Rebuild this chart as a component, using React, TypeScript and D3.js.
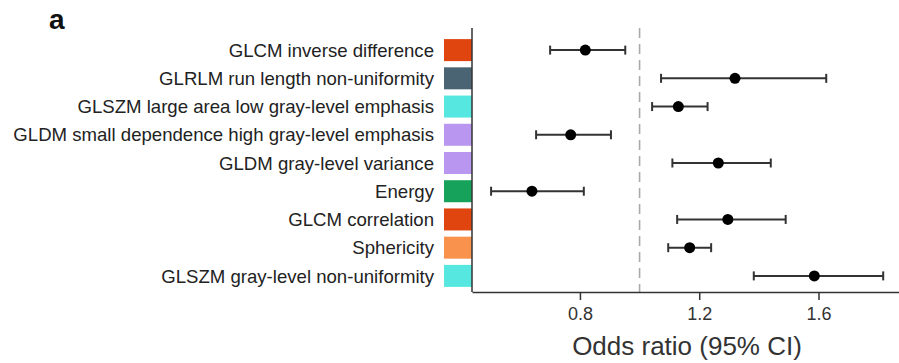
import React, { useEffect, useRef } from 'react';
import * as d3 from 'd3';

// features, top to bottom
const features = [
  'GLCM inverse difference',
  'GLRLM run length non-uniformity',
  'GLSZM large area low gray-level emphasis',
  'GLDM small dependence high gray-level emphasis',
  'GLDM gray-level variance',
  'Energy',
  'GLCM correlation',
  'Sphericity',
  'GLSZM gray-level non-uniformity',
];
const oddsRatio = [0.818, 1.32, 1.13, 0.769, 1.264, 0.639, 1.296, 1.168, 1.586];
const ciLow = [0.70, 1.072, 1.042, 0.653, 1.11, 0.502, 1.126, 1.096, 1.383];
const ciHigh = [0.952, 1.626, 1.228, 0.904, 1.44, 0.813, 1.49, 1.24, 1.817];
const groupColors = ['#e0450f', '#4b6474', '#56e8e0', '#b996ef', '#b996ef', '#17a25c', '#e0450f', '#f8924c', '#56e8e0'];
const xTicks = [0.8, 1.2, 1.6];

const W = 899;
const H = 363;

export default function App() {
  const ref = useRef<SVGSVGElement | null>(null);

  useEffect(() => {
    if (!ref.current) return;
    const svg = d3.select(ref.current);
    svg.selectAll('*').remove();
    const font = "'Liberation Sans', Arial, Helvetica, sans-serif";

    const axisLeftX = 472;
    const axisBottomY = 292;
    const x = d3.scaleLinear().domain([0.438, 1.87]).range([axisLeftX, W]);
    const y = d3.scaleBand<string>()
      .domain(features)
      .range([36, 290])
      .paddingInner(0.22)
      .paddingOuter(0.11);
    const rowMid = (f: string) => (y(f) ?? 0) + y.bandwidth() / 2;

    // panel letter
    svg.append('text')
      .attr('x', 49)
      .attr('y', 29)
      .attr('font-family', font)
      .attr('font-weight', 'bold')
      .attr('font-size', 28)
      .attr('fill', '#111')
      .text('a');

    // row labels
    svg.append('g').selectAll('text')
      .data(features)
      .enter()
      .append('text')
      .attr('x', 434)
      .attr('y', d => rowMid(d))
      .attr('dy', '0.36em')
      .attr('text-anchor', 'end')
      .attr('font-family', font)
      .attr('font-size', 18.6)
      .attr('fill', '#222')
      .text(d => d);

    // colour boxes
    svg.append('g').selectAll('rect')
      .data(features)
      .enter()
      .append('rect')
      .attr('x', 444)
      .attr('y', d => y(d)!)
      .attr('width', axisLeftX - 444)
      .attr('height', y.bandwidth())
      .attr('fill', (_, i) => groupColors[i]);

    // reference line at OR = 1
    svg.append('line')
      .attr('x1', x(1))
      .attr('x2', x(1))
      .attr('y1', 28)
      .attr('y2', axisBottomY)
      .attr('stroke', '#aaa')
      .attr('stroke-width', 1.6)
      .attr('stroke-dasharray', '10,6');

    // left axis line
    svg.append('line')
      .attr('x1', axisLeftX)
      .attr('x2', axisLeftX)
      .attr('y1', 28)
      .attr('y2', axisBottomY)
      .attr('stroke', '#333')
      .attr('stroke-width', 1.5);

    // bottom axis
    const xAxis = svg.append('g')
      .attr('transform', `translate(0,${axisBottomY})`)
      .call(d3.axisBottom(x).tickValues(xTicks).tickFormat(d3.format('.1f')).tickSize(8).tickSizeOuter(0).tickPadding(7));
    xAxis.select('.domain').attr('stroke', '#333').attr('stroke-width', 1.5);
    xAxis.selectAll('.tick line').attr('stroke', '#333').attr('stroke-width', 1.5);
    xAxis.selectAll('.tick text')
      .attr('font-family', font)
      .attr('font-size', 18)
      .attr('fill', '#333');

    svg.append('text')
      .attr('x', 687)
      .attr('y', 355)
      .attr('text-anchor', 'middle')
      .attr('font-family', font)
      .attr('font-size', 26)
      .attr('fill', '#333')
      .text('Odds ratio (95% CI)');

    // error bars
    const bars = svg.append('g').selectAll('g')
      .data(features)
      .enter()
      .append('g')
      .attr('stroke', '#333')
      .attr('stroke-width', 2);
    bars.append('line')
      .attr('x1', (_, i) => x(ciLow[i]))
      .attr('x2', (_, i) => x(ciHigh[i]))
      .attr('y1', d => rowMid(d))
      .attr('y2', d => rowMid(d));
    bars.append('line')
      .attr('x1', (_, i) => x(ciLow[i]))
      .attr('x2', (_, i) => x(ciLow[i]))
      .attr('y1', d => rowMid(d) - 4.5)
      .attr('y2', d => rowMid(d) + 4.5);
    bars.append('line')
      .attr('x1', (_, i) => x(ciHigh[i]))
      .attr('x2', (_, i) => x(ciHigh[i]))
      .attr('y1', d => rowMid(d) - 4.5)
      .attr('y2', d => rowMid(d) + 4.5);

    // point estimates
    svg.append('g').selectAll('circle')
      .data(features)
      .enter()
      .append('circle')
      .attr('cx', (_, i) => x(oddsRatio[i]))
      .attr('cy', d => rowMid(d))
      .attr('r', 5.5)
      .attr('fill', '#000');
  }, []);

  return (
    <svg
      ref={ref}
      width={W}
      height={H}
      style={{ position: 'absolute', left: 0, top: 0, background: '#fff' }}
    />
  );
}
